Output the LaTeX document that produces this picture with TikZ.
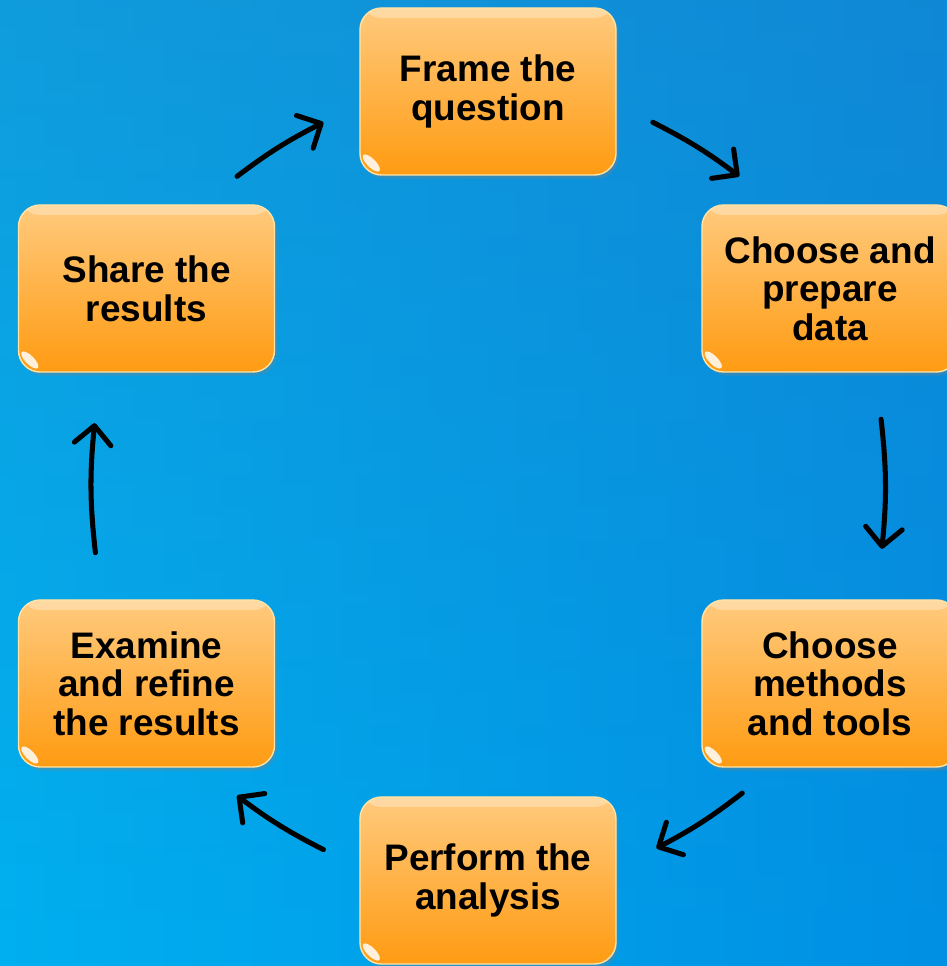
\documentclass[tikz,border=0pt]{standalone}
\usepackage{fontspec}
\setmainfont{Liberation Sans}
\usetikzlibrary{arrows.meta,shadows,fadings}

\definecolor{bgleft}{RGB}{0,176,240}
\definecolor{bgright}{RGB}{0,144,228}
\definecolor{bgtop}{RGB}{45,120,185}
\definecolor{boxtop}{RGB}{255,202,125}
\definecolor{boxbot}{RGB}{255,155,18}
\definecolor{boxedge}{RGB}{255,228,165}

\tikzfading[name=fadedown, top color=transparent!65, bottom color=transparent!100]

\tikzset{
  stage/.style={rectangle, rounded corners=0.65cm,
    minimum width=7.68cm, minimum height=5.01cm,
    top color=boxtop, bottom color=boxbot, draw=boxedge, line width=1.2pt,
    drop shadow={shadow xshift=2pt, shadow yshift=-3pt, opacity=0.35},
    path picture={
      \fill[white, opacity=0.3] ([yshift=-0.3cm]path picture bounding box.north west)
        rectangle (path picture bounding box.north east);
      \fill[white, opacity=0.85] ([shift={(0.34cm,0.36cm)}]path picture bounding box.south west)
        circle [x radius=0.34cm, y radius=0.13cm, rotate=-45];
    },
    align=center, font=\bfseries\fontsize{31.5}{33}\selectfont},
  cyc/.style={line width=4.3pt, line cap=round,
    -{Straight Barb[length=5.5mm, width=11mm, round]}},
}

\begin{document}
\begin{tikzpicture}[x=0.03cm, y=0.03cm]
  \useasboundingbox (0,0) rectangle (947,966);
  \clip (0,0) rectangle (947,966);
  \fill[left color=bgleft, right color=bgright] (0,0) rectangle (947,966);
  \fill[bgtop, path fading=fadedown] (0,0) rectangle (947,966);

  \node[stage] (frame) at (488,874.5) {Frame the\\question};
  \node[stage] (data) at (830,677.5) {Choose and\\prepare\\data};
  \node[stage] (methods) at (830,282.5) {Choose\\methods\\and tools};
  \node[stage] (perform) at (488,85.5) {Perform the\\analysis};
  \node[stage] (examine) at (146.5,282.5) {Examine\\and refine\\the results};
  \node[stage] (share) at (146.5,677.5) {Share the\\results};

  % cycle arrows, taken off the circle through the boxes
  \path (share.center) to[bend left=30] coordinate[pos=0.34] (s1) coordinate[pos=0.60] (e1) (frame.center);
  \path (frame.center) to[bend left=30] coordinate[pos=0.40] (s2) coordinate[pos=0.66] (e2) (data.center);
  \path (data.center) to[bend left=30] coordinate[pos=0.33] (s3) coordinate[pos=0.66] (e3) (methods.center);
  \path (methods.center) to[bend left=30] coordinate[pos=0.33] (s4) coordinate[pos=0.59] (e4) (perform.center);
  \path (perform.center) to[bend left=30] coordinate[pos=0.40] (s5) coordinate[pos=0.66] (e5) (examine.center);
  \path (examine.center) to[bend left=30] coordinate[pos=0.33] (s6) coordinate[pos=0.66] (e6) (share.center);

  \draw[cyc] (s1) to[bend left=5] (e1);
  \draw[cyc] (s2) to[bend left=5] (e2);
  \draw[cyc] (s3) to[bend left=6] (e3);
  \draw[cyc] (s4) to[bend left=5] (e4);
  \draw[cyc] (s5) to[bend left=5] (e5);
  \draw[cyc] (s6) to[bend left=6] (e6);
\end{tikzpicture}
\end{document}
